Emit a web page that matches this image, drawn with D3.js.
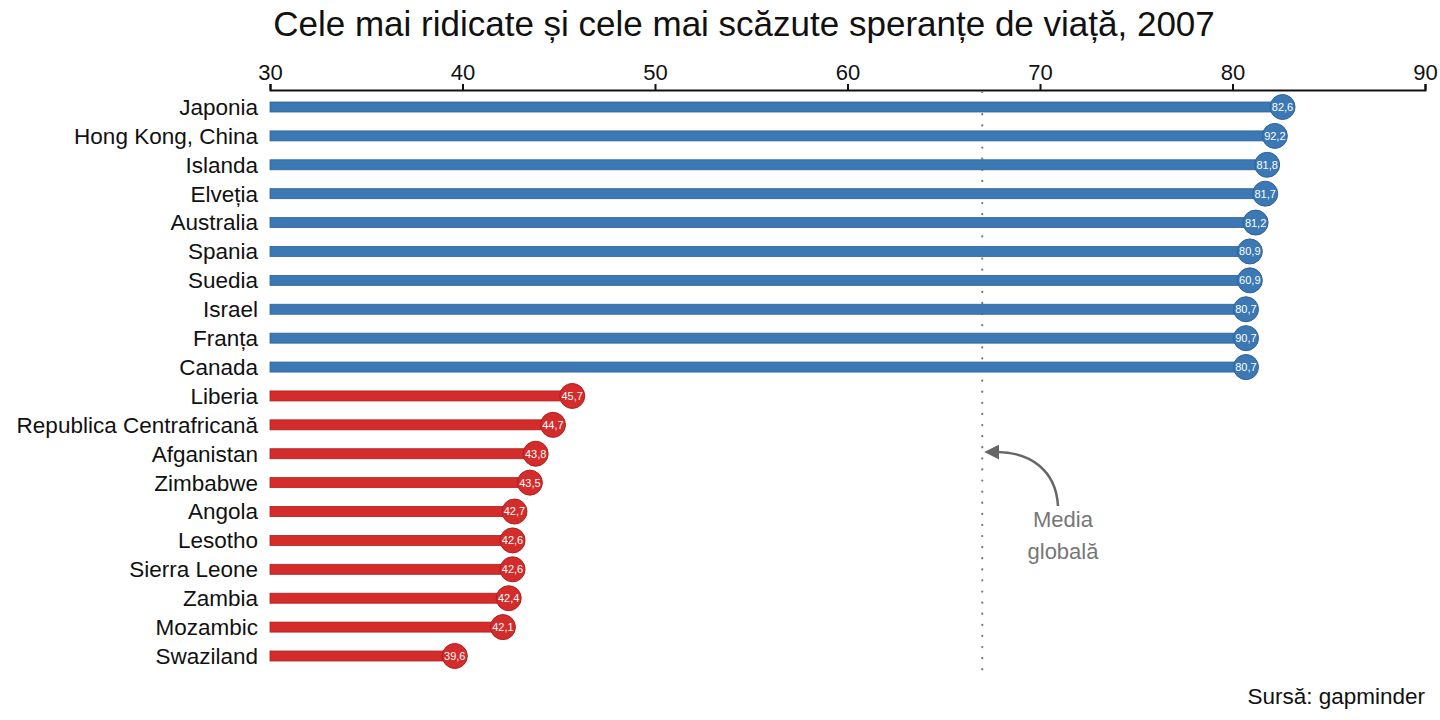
<!DOCTYPE html>
<html><head><meta charset="utf-8">
<script src="https://cdn.jsdelivr.net/npm/d3@7"></script>
<style>
html,body{margin:0;padding:0;background:#fff;}
svg{display:block;font-family:"Liberation Sans",Arial,sans-serif;}
</style></head>
<body>
<svg id="chart" width="1440" height="720"></svg>
<script>
const countries = ["Japonia","Hong Kong, China","Islanda","Elveția","Australia","Spania","Suedia","Israel","Franța","Canada",
  "Liberia","Republica Centrafricană","Afganistan","Zimbabwe","Angola","Lesotho","Sierra Leone","Zambia","Mozambic","Swaziland"];
const values = [82.6,82.2,81.8,81.7,81.2,80.9,80.9,80.7,80.7,80.7,45.7,44.7,43.8,43.5,42.7,42.6,42.6,42.4,42.1,39.6];
const valueLabels = ["82,6","92,2","81,8","81,7","81,2","80,9","60,9","80,7","90,7","80,7",
  "45,7","44,7","43,8","43,5","42,7","42,6","42,6","42,4","42,1","39,6"];
const groups = ["high","high","high","high","high","high","high","high","high","high",
  "low","low","low","low","low","low","low","low","low","low"];
const xTicks = [30,40,50,60,70,80,90];
const globalMean = 67.0;
const title = "Cele mai ridicate și cele mai scăzute speranțe de viață, 2007";
const source = "Sursă: gapminder";

const colors = {high:"#3b78b4", low:"#d42b2b"};
const strokes = {high:"#2f6298", low:"#b01f1f"};

const svg = d3.select("#chart");
const x = d3.scaleLinear().domain([30,90]).range([270,1425]);
const y = d3.scalePoint().domain(countries).range([107,656]);

svg.append("text").attr("x",744).attr("y",36).attr("text-anchor","middle")
  .attr("font-size",35).attr("fill","#111").text(title);

const axis = svg.append("g").attr("transform","translate(0,90)")
  .call(d3.axisTop(x).tickValues(xTicks).tickSize(6).tickSizeOuter(6).tickFormat(d3.format("d")));
axis.select(".domain").attr("stroke","#111").attr("stroke-width",2);
axis.selectAll(".tick line").attr("stroke","#111").attr("stroke-width",2);
axis.selectAll(".tick text").attr("font-size",22).attr("fill","#111")
  .attr("font-family","Liberation Sans, Arial, sans-serif").attr("dy","-0.05em");

// mean line
svg.append("line").attr("x1",x(globalMean)).attr("x2",x(globalMean))
  .attr("y1",92).attr("y2",672).attr("stroke","#777").attr("stroke-width",2.2)
  .attr("stroke-dasharray","0.1 11").attr("stroke-linecap","round");

const data = countries.map((c,i)=>({c, v:values[i], l:valueLabels[i], g:groups[i]}));

svg.append("g").selectAll("text").data(data).join("text")
  .attr("x",258).attr("y",d=>y(d.c)).attr("dy","0.35em").attr("text-anchor","end")
  .attr("font-size",22.5).attr("fill","#111").text(d=>d.c);

svg.append("g").selectAll("rect").data(data).join("rect")
  .attr("x",x(30)).attr("y",d=>y(d.c)-5).attr("height",10)
  .attr("width",d=>x(d.v)-x(30)).attr("fill",d=>colors[d.g])
  .attr("stroke",d=>strokes[d.g]).attr("stroke-width",0.8);

svg.append("g").selectAll("circle").data(data).join("circle")
  .attr("cx",d=>x(d.v)).attr("cy",d=>y(d.c)).attr("r",12.5)
  .attr("fill",d=>colors[d.g]).attr("stroke",d=>strokes[d.g]).attr("stroke-width",1);

svg.append("g").selectAll("text").data(data).join("text")
  .attr("x",d=>x(d.v)).attr("y",d=>y(d.c)).attr("dy","0.36em").attr("text-anchor","middle")
  .attr("font-size",11).attr("fill","#fff").text(d=>d.l);

// annotation
const defs = svg.append("defs");
defs.append("marker").attr("id","ah").attr("viewBox","0 0 10 10").attr("refX",2).attr("refY",5)
  .attr("markerWidth",6).attr("markerHeight",6).attr("orient","auto-start-reverse")
  .append("path").attr("d","M0,0 L10,5 L0,10 z").attr("fill","#666");
const mx = x(globalMean);
svg.append("path").attr("d",`M1058,506 C1056,470 1030,452 ${mx+14},452`)
  .attr("fill","none").attr("stroke","#666").attr("stroke-width",2.5)
  .attr("marker-end","url(#ah)");
svg.append("text").attr("x",1063).attr("y",527).attr("text-anchor","middle")
  .attr("font-size",22).attr("fill","#777").text("Media");
svg.append("text").attr("x",1063).attr("y",559).attr("text-anchor","middle")
  .attr("font-size",22).attr("fill","#777").text("globală");

svg.append("text").attr("x",1425).attr("y",704).attr("text-anchor","end")
  .attr("font-size",22.5).attr("fill","#111").text(source);
</script>
</body></html>
